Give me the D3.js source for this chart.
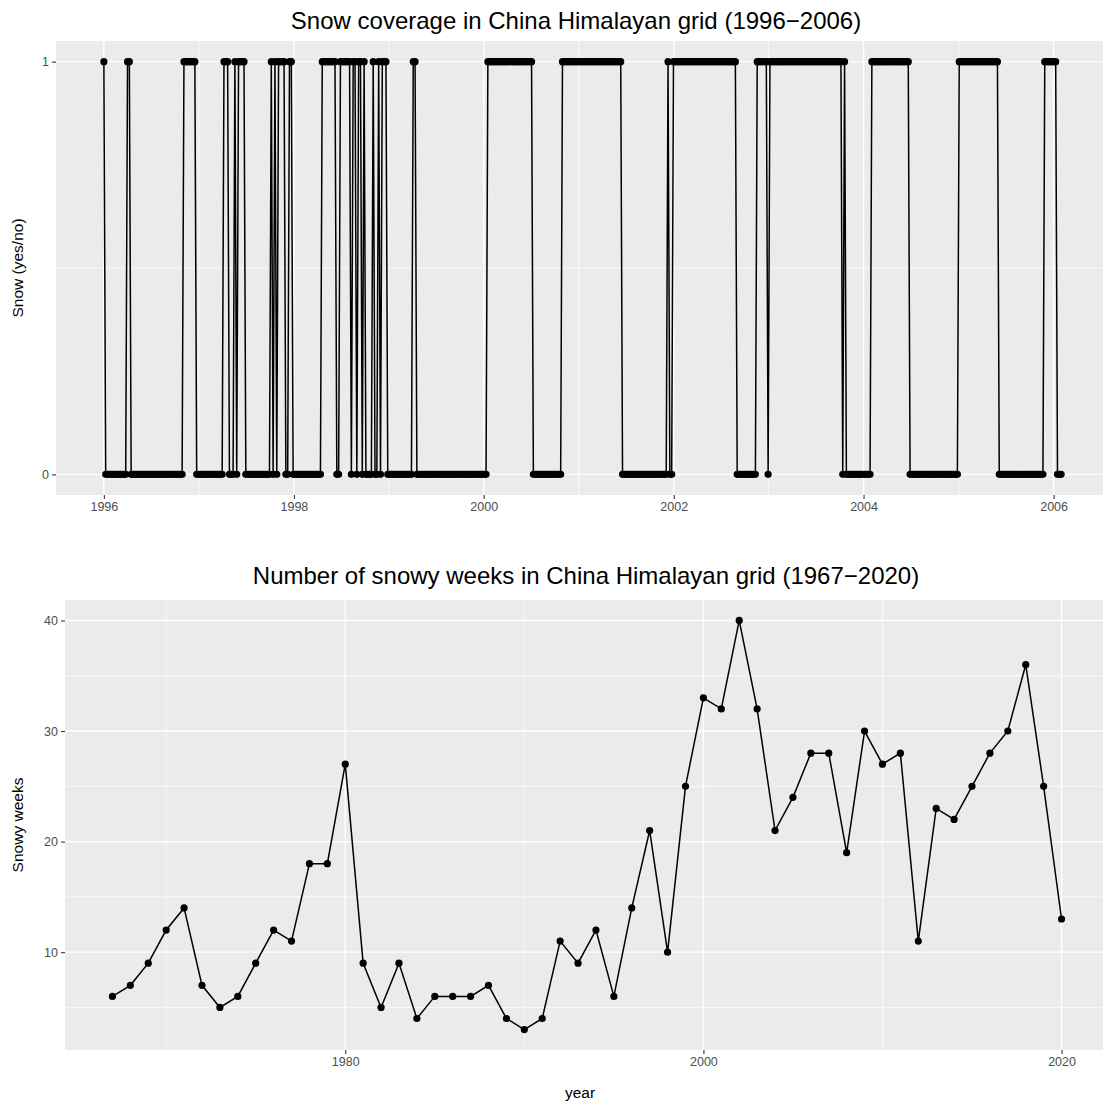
<!DOCTYPE html>
<meta charset="utf-8">
<script src="https://d3js.org/d3.v7.min.js"></script>
<style>
body { margin: 0; background: #fff; }
text { font-family: "Liberation Sans", Arial, Helvetica, sans-serif; }
.tick text { fill: #4d4d4d; font-size: 12.5px; }
.tick line { stroke: #333; stroke-width: 1.1px; }
.panel { fill: #ebebeb; }
.grid-major { stroke: #fff; stroke-width: 1.4px; }
.grid-minor { stroke: #fff; stroke-width: 0.7px; }
.series { fill: none; stroke: #000; stroke-width: 1.5px; }
.dot { fill: #000; }
.title { font-size: 24px; fill: #000; }
.axis-title { font-size: 15.5px; fill: #000; }
</style>
<svg width="1103" height="1107"></svg>
<script>

// ---- top chart: weekly snow yes/no, 1996-2006 ----
// weeks counted from the first observation (1996-01-01)
var seriesStart = "1996-01-01";
var lastWeek = 526;
// snowy spells, first and last week of each
var spellFirstWeek = [0, 13, 44, 66, 72, 74, 92, 94, 96, 102, 120, 130, 137, 140, 143, 148, 151, 153, 170,
                      211, 252, 310, 313, 359, 366, 407, 422, 470, 517];
var spellLastWeek  = [0, 14, 50, 68, 72, 77, 92, 94, 99, 103, 127, 135, 138, 141, 143, 148, 151, 155, 171,
                      235, 284, 310, 347, 364, 405, 407, 442, 491, 523];
var topTickYears = ["1996", "1998", "2000", "2002", "2004", "2006"];
var topMinorYears = ["1997", "1999", "2001", "2003", "2005"];
var snowTicks = [0, 1];

// ---- bottom chart: snowy weeks per year, 1967-2020 ----
var years = [1967, 1968, 1969, 1970, 1971, 1972, 1973, 1974, 1975, 1976, 1977, 1978, 1979, 1980,
             1981, 1982, 1983, 1984, 1985, 1986, 1987, 1988, 1989, 1990, 1991, 1992, 1993, 1994,
             1995, 1996, 1997, 1998, 1999, 2000, 2001, 2002, 2003, 2004, 2005, 2006, 2007, 2008,
             2009, 2010, 2011, 2012, 2013, 2014, 2015, 2016, 2017, 2018, 2019, 2020];
var snowyWeeks = [6, 7, 9, 12, 14, 7, 5, 6, 9, 12, 11, 18, 18, 27,
                  9, 5, 9, 4, 6, 6, 6, 7, 4, 3, 4, 11, 9, 12,
                  6, 14, 21, 10, 25, 33, 32, 40, 32, 21, 24, 28, 28, 19,
                  30, 27, 28, 11, 23, 22, 25, 28, 30, 36, 25, 13];
var yearTicks = [1980, 2000, 2020];
var yearMinor = [1970, 1990, 2010];
var weekTicks = [10, 20, 30, 40];
var weekMinor = [5, 15, 25, 35];

var svg = d3.select("svg");
var parseDate = d3.timeParse("%Y-%m-%d");
var t0 = parseDate(seriesStart);

// build weekly records from the spells
var weekly = [];
for (var w = 0; w <= lastWeek; w++) {
  var snow = 0;
  for (var s = 0; s < spellFirstWeek.length; s++) {
    if (w >= spellFirstWeek[s] && w <= spellLastWeek[s]) snow = 1;
  }
  weekly.push({date: d3.timeDay.offset(t0, 7 * w), snow: snow});
}

// ggplot style 5% expansion
function expand(ext) {
  var pad = (ext[1] - ext[0]) * 0.05;
  return [ext[0] - pad, ext[1] + pad];
}

function drawPanel(g, box, x, y, xMajor, xMinor, yMajor, yMinor) {
  g.append("rect").attr("class", "panel")
    .attr("x", box.left).attr("y", box.top)
    .attr("width", box.right - box.left).attr("height", box.bottom - box.top);

  g.selectAll(".gx-minor").data(xMinor).enter().append("line")
    .attr("class", "grid-minor")
    .attr("x1", x).attr("x2", x).attr("y1", box.top).attr("y2", box.bottom);
  g.selectAll(".gy-minor").data(yMinor).enter().append("line")
    .attr("class", "grid-minor")
    .attr("y1", y).attr("y2", y).attr("x1", box.left).attr("x2", box.right);
  g.selectAll(".gx-major").data(xMajor).enter().append("line")
    .attr("class", "grid-major")
    .attr("x1", x).attr("x2", x).attr("y1", box.top).attr("y2", box.bottom);
  g.selectAll(".gy-major").data(yMajor).enter().append("line")
    .attr("class", "grid-major")
    .attr("y1", y).attr("y2", y).attr("x1", box.left).attr("x2", box.right);
}

// ================= top chart =================
// the right edge of both panels runs past the edge of the picture
var topBox = {left: 56, right: 1109, top: 41, bottom: 495};
var xTop = d3.scaleTime()
    .domain(expand(d3.extent(weekly, function(d) { return +d.date; })).map(function(v) { return new Date(v); }))
    .range([topBox.left, topBox.right]);
var yTop = d3.scaleLinear().domain(expand([0, 1])).range([topBox.bottom, topBox.top]);

var gTop = svg.append("g");
var yearDate = function(y) { return parseDate(y + "-01-01"); };
drawPanel(gTop, topBox,
  function(d) { return xTop(d); }, yTop,
  topTickYears.map(yearDate), topMinorYears.map(yearDate),
  snowTicks, [0.5]);

gTop.append("path").datum(weekly).attr("class", "series")
  .attr("d", d3.line().x(function(d) { return xTop(d.date); }).y(function(d) { return yTop(d.snow); }));
gTop.selectAll(".dot").data(weekly).enter().append("circle")
  .attr("class", "dot")
  .attr("cx", function(d) { return xTop(d.date); })
  .attr("cy", function(d) { return yTop(d.snow); })
  .attr("r", 3.6);

gTop.append("g").attr("transform", "translate(0," + topBox.bottom + ")")
  .call(d3.axisBottom(xTop).tickValues(topTickYears.map(yearDate))
        .tickFormat(d3.timeFormat("%Y")).tickSize(3.9).tickPadding(3.1).tickSizeOuter(0))
  .call(function(a) { a.select(".domain").remove(); });
gTop.append("g").attr("transform", "translate(" + topBox.left + ",0)")
  .call(d3.axisLeft(yTop).tickValues(snowTicks).tickFormat(d3.format("d"))
        .tickSize(3.9).tickPadding(3.1).tickSizeOuter(0))
  .call(function(a) { a.select(".domain").remove(); });

svg.append("text").attr("class", "title")
  .attr("x", 576).attr("y", 29)
  .attr("text-anchor", "middle")
  .text("Snow coverage in China Himalayan grid (1996\u22122006)");
svg.append("text").attr("class", "axis-title")
  .attr("transform", "translate(23," + (topBox.top + topBox.bottom) / 2 + ") rotate(-90)")
  .attr("text-anchor", "middle")
  .text("Snow (yes/no)");

// ================= bottom chart =================
var botBox = {left: 65, right: 1109, top: 600, bottom: 1050};
var xBot = d3.scaleLinear().domain(expand(d3.extent(years))).range([botBox.left, botBox.right]);
var yBot = d3.scaleLinear().domain(expand(d3.extent(snowyWeeks))).range([botBox.bottom, botBox.top]);

var gBot = svg.append("g");
drawPanel(gBot, botBox, xBot, yBot, yearTicks, yearMinor, weekTicks, weekMinor);

var pts = years.map(function(y, i) { return {year: y, weeks: snowyWeeks[i]}; });
gBot.append("path").datum(pts).attr("class", "series")
  .attr("d", d3.line().x(function(d) { return xBot(d.year); }).y(function(d) { return yBot(d.weeks); }));
gBot.selectAll(".dot").data(pts).enter().append("circle")
  .attr("class", "dot")
  .attr("cx", function(d) { return xBot(d.year); })
  .attr("cy", function(d) { return yBot(d.weeks); })
  .attr("r", 3.6);

gBot.append("g").attr("transform", "translate(0," + botBox.bottom + ")")
  .call(d3.axisBottom(xBot).tickValues(yearTicks).tickFormat(d3.format("d"))
        .tickSize(3.9).tickPadding(3.1).tickSizeOuter(0))
  .call(function(a) { a.select(".domain").remove(); });
gBot.append("g").attr("transform", "translate(" + botBox.left + ",0)")
  .call(d3.axisLeft(yBot).tickValues(weekTicks).tickFormat(d3.format("d"))
        .tickSize(3.9).tickPadding(3.1).tickSizeOuter(0))
  .call(function(a) { a.select(".domain").remove(); });

svg.append("text").attr("class", "title")
  .attr("x", 586).attr("y", 584)
  .attr("text-anchor", "middle")
  .text("Number of snowy weeks in China Himalayan grid (1967\u22122020)");
svg.append("text").attr("class", "axis-title")
  .attr("x", 580).attr("y", 1098)
  .attr("text-anchor", "middle")
  .text("year");
svg.append("text").attr("class", "axis-title")
  .attr("transform", "translate(23," + (botBox.top + botBox.bottom) / 2 + ") rotate(-90)")
  .attr("text-anchor", "middle")
  .text("Snowy weeks");

</script>
